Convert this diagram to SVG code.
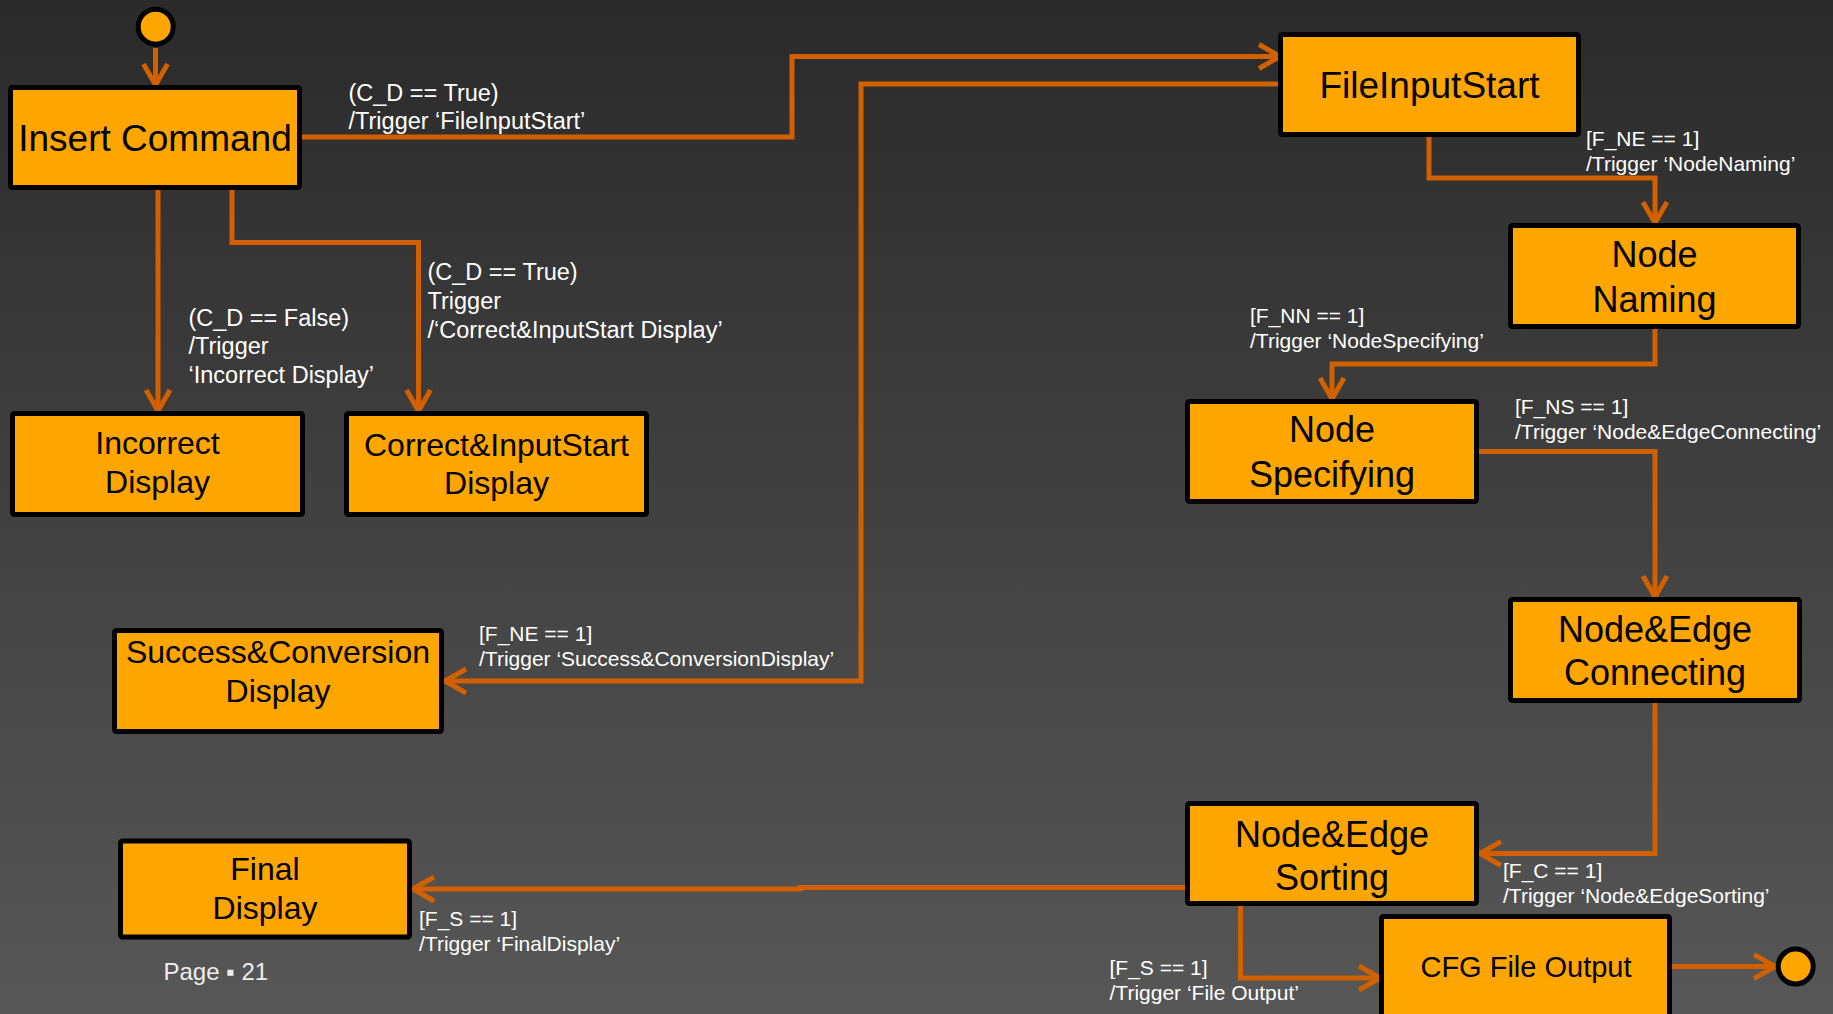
<svg xmlns="http://www.w3.org/2000/svg" width="1833" height="1014" viewBox="0 0 1833 1014">
<defs>
<linearGradient id="bg" x1="0" y1="0" x2="0" y2="1">
<stop offset="0" stop-color="#2a2a2a"/>
<stop offset="1" stop-color="#575757"/>
</linearGradient>
<marker id="arr" markerUnits="userSpaceOnUse" markerWidth="30" markerHeight="30" viewBox="0 0 30 30" refX="24" refY="15" orient="auto">
<path d="M3,3 L24,15 L3,27" fill="none" stroke="#d06000" stroke-width="5" stroke-linejoin="miter"/>
</marker>
<style>
.box{fill:#ffa500;stroke:#000;stroke-width:5}
.nt{font-family:"Liberation Sans",Arial,sans-serif;fill:#000;text-anchor:middle}
.lb{font-family:"Liberation Sans",Arial,sans-serif;fill:#fff}
.c{fill:none;stroke:#d06000;stroke-width:5;marker-end:url(#arr)}
.c0{fill:none;stroke:#d06000;stroke-width:5}
.st{fill:#ffa500;stroke:#000;stroke-width:5}
</style>
</defs>
<rect x="0" y="0" width="1833" height="1014" fill="url(#bg)"/>

<g id="connectors">
<path class="c" d="M155.5,48 V85"/>
<path class="c" d="M302,137 H792 V56.5 H1280"/>
<path class="c" d="M158,190 V411"/>
<path class="c" d="M232,190 V242.5 H418.5 V411"/>
<path class="c" d="M1278,84 H861 V681 H445"/>
<path class="c" d="M1429,137 V178 H1655 V223"/>
<path class="c" d="M1655,329 V364 H1332 V399"/>
<path class="c" d="M1479,451.5 H1655 V597"/>
<path class="c" d="M1655,703 V853.5 H1480"/>
<path class="c" d="M1185,887.5 H800 V889 H413"/>
<path class="c" d="M1240.5,906 V978 H1380"/>
<path class="c" d="M1672,966.5 H1775"/>
</g>

<g id="labels" class="lb">
<text x="348.5" y="100.5" font-size="23.5">(C_D == True)</text>
<text x="348.5" y="129" font-size="23.5">/Trigger ‘FileInputStart’</text>
<text x="188.5" y="325.5" font-size="23.5">(C_D == False)</text>
<text x="188.5" y="354" font-size="23.5">/Trigger</text>
<text x="188.5" y="382.5" font-size="23.5">‘Incorrect Display’</text>
<text x="427.5" y="280" font-size="23.5">(C_D == True)</text>
<text x="427.5" y="309" font-size="23.5">Trigger</text>
<text x="427.5" y="337.5" font-size="23.5">/‘Correct&amp;InputStart Display’</text>
<text x="479" y="641" font-size="21">[F_NE == 1]</text>
<text x="479" y="666" font-size="21">/Trigger ‘Success&amp;ConversionDisplay’</text>
<text x="1586" y="146" font-size="21">[F_NE == 1]</text>
<text x="1586" y="171" font-size="21">/Trigger ‘NodeNaming’</text>
<text x="1250" y="323" font-size="21">[F_NN == 1]</text>
<text x="1250" y="348" font-size="21">/Trigger ‘NodeSpecifying’</text>
<text x="1515" y="414" font-size="21">[F_NS == 1]</text>
<text x="1515" y="439" font-size="21">/Trigger ‘Node&amp;EdgeConnecting’</text>
<text x="1503" y="878" font-size="21">[F_C == 1]</text>
<text x="1503" y="902.5" font-size="21">/Trigger ‘Node&amp;EdgeSorting’</text>
<text x="419" y="925.5" font-size="21">[F_S == 1]</text>
<text x="419" y="950.5" font-size="21">/Trigger ‘FinalDisplay’</text>
<text x="1109.5" y="975" font-size="21">[F_S == 1]</text>
<text x="1109.5" y="1000" font-size="21">/Trigger ‘File Output’</text>
</g>

<g id="start"><circle class="st" cx="155.7" cy="26.7" r="17.5"/></g>
<g id="end"><circle class="st" cx="1795.7" cy="966.5" r="17.5"/></g>

<g id="insert-command">
<rect class="box" x="10.5" y="87.5" width="289" height="100" rx="2"/>
<text class="nt" x="155" y="150.5" font-size="37">Insert Command</text>
</g>
<g id="file-input-start">
<rect class="box" x="1280.5" y="34.5" width="298" height="100" rx="2"/>
<text class="nt" x="1429.5" y="98" font-size="37">FileInputStart</text>
</g>
<g id="node-naming">
<rect class="box" x="1510.5" y="225.5" width="288" height="101" rx="2"/>
<text class="nt" x="1654.5" y="266.5" font-size="36">Node</text>
<text class="nt" x="1654.5" y="311.5" font-size="36">Naming</text>
</g>
<g id="node-specifying">
<rect class="box" x="1187.5" y="401.5" width="289" height="100" rx="2"/>
<text class="nt" x="1332" y="442" font-size="36">Node</text>
<text class="nt" x="1332" y="487" font-size="36">Specifying</text>
</g>
<g id="node-edge-connecting">
<rect class="box" x="1510.5" y="599.5" width="289" height="101" rx="2"/>
<text class="nt" x="1655" y="641.5" font-size="36">Node&amp;Edge</text>
<text class="nt" x="1655" y="685" font-size="36">Connecting</text>
</g>
<g id="node-edge-sorting">
<rect class="box" x="1187.5" y="803.5" width="289" height="100" rx="2"/>
<text class="nt" x="1332" y="846.5" font-size="36">Node&amp;Edge</text>
<text class="nt" x="1332" y="890" font-size="36">Sorting</text>
</g>
<g id="cfg-file-output">
<rect class="box" x="1381.5" y="916.5" width="288" height="120" rx="2"/>
<text class="nt" x="1526" y="977" font-size="29">CFG File Output</text>
</g>
<g id="incorrect-display">
<rect class="box" x="12.5" y="413.5" width="290" height="101" rx="2"/>
<text class="nt" x="157.5" y="454" font-size="32">Incorrect</text>
<text class="nt" x="157.5" y="493" font-size="32">Display</text>
</g>
<g id="correct-display">
<rect class="box" x="346.5" y="413.5" width="300" height="101" rx="2"/>
<text class="nt" x="496.5" y="456" font-size="32">Correct&amp;InputStart</text>
<text class="nt" x="496.5" y="494" font-size="32">Display</text>
</g>
<g id="success-display">
<rect class="box" x="114.5" y="630.5" width="327" height="101" rx="2"/>
<text class="nt" x="278" y="662.5" font-size="32">Success&amp;Conversion</text>
<text class="nt" x="278" y="702" font-size="32">Display</text>
</g>
<g id="final-display">
<rect class="box" x="120.5" y="841" width="289" height="96" rx="2"/>
<text class="nt" x="265" y="880" font-size="32">Final</text>
<text class="nt" x="265" y="919" font-size="32">Display</text>
</g>

<text x="163.5" y="980" font-family="'Liberation Sans',Arial,sans-serif" font-size="24" fill="#eeeeee">Page ▪ 21</text>
</svg>
